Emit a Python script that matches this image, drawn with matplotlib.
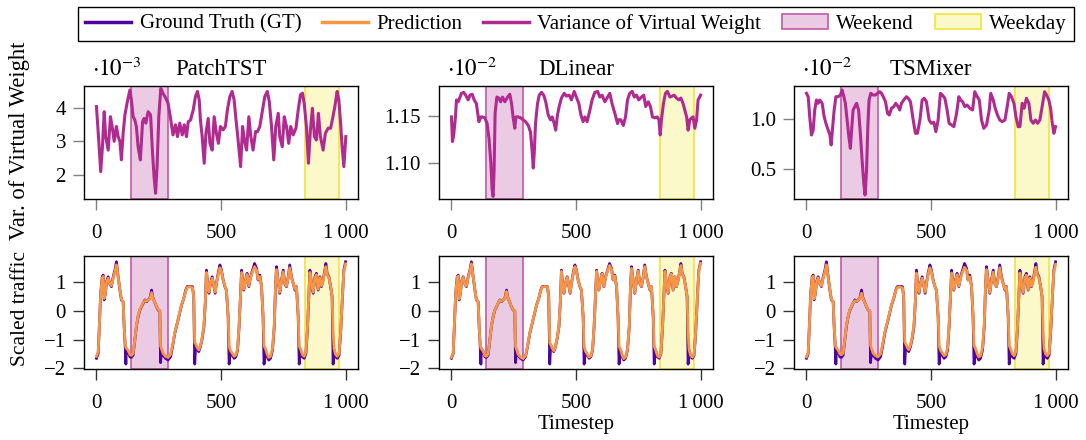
import matplotlib
matplotlib.use("Agg")
import matplotlib.pyplot as plt
from matplotlib.lines import Line2D
from matplotlib.patches import Patch

plt.rcParams['font.family'] = ['Liberation Serif', 'DejaVu Serif']
plt.rcParams['mathtext.fontset'] = 'stix'

# ---------------- data ----------------
models = ["PatchTST", "DLinear", "TSMixer"]
scale_labels = [r"$\cdot 10^{-3}$", r"$\cdot 10^{-2}$", r"$\cdot 10^{-2}$"]
weekend_span = [140, 286]
weekday_span = [838, 973]

patchtst_var_t = [0, 9, 17, 24, 31, 37, 47, 56, 63, 71,
                  80, 87, 94, 100, 107, 114, 124, 134, 140, 147,
                  154, 160, 167, 176, 185, 191, 198, 207, 217, 225,
                  231, 237, 243, 250, 258, 267, 278, 287, 297, 307,
                  317, 325, 334, 344, 352, 361, 368, 377, 388, 397,
                  405, 412, 417, 424, 432, 439, 448, 455, 464, 472,
                  481, 489, 497, 508, 517, 525, 535, 544, 552, 559,
                  568, 578, 586, 594, 602, 611, 619, 628, 638, 646,
                  655, 666, 675, 685, 693, 702, 711, 719, 729, 735,
                  745, 753, 762, 771, 779, 789, 800, 809, 818, 826,
                  833, 842, 850, 858, 866, 874, 882, 890, 898, 909,
                  918, 929, 939, 947, 956, 965, 972, 979, 985, 992,
                  1000]
patchtst_var = [4.03, 3.04, 2.10, 2.84, 3.88, 3.14, 2.74, 3.73, 3.44, 3.00,
                3.44, 3.14, 3.00, 2.45, 3.24, 3.78, 4.18, 4.52, 4.23, 3.73,
                3.63, 3.44, 2.84, 2.45, 3.59, 3.68, 3.54, 3.88, 3.78, 2.64,
                1.95, 1.46, 2.25, 3.73, 4.57, 4.42, 4.28, 4.13, 3.68, 3.19,
                3.49, 3.14, 3.54, 3.19, 3.49, 3.14, 3.58, 3.63, 3.93, 4.33,
                4.48, 4.23, 3.63, 3.14, 2.35, 3.24, 3.68, 2.94, 2.74, 3.73,
                3.24, 2.94, 3.44, 3.34, 3.44, 3.93, 4.33, 4.48, 4.23, 3.68,
                3.04, 2.25, 3.44, 3.00, 2.74, 3.73, 3.14, 2.74, 3.29, 3.29,
                3.44, 3.93, 4.33, 4.48, 4.18, 3.44, 2.45, 3.44, 3.83, 3.14,
                2.84, 3.73, 3.44, 2.94, 3.44, 3.19, 3.39, 3.93, 4.38, 4.43,
                4.13, 3.44, 2.35, 3.34, 3.98, 3.14, 3.04, 3.83, 3.14, 2.74,
                3.24, 3.39, 3.39, 3.68, 4.03, 4.48, 4.23, 3.54, 2.84, 2.25,
                3.14]

dlinear_var_t = [0, 4, 9, 16, 20, 27, 33, 40, 49, 57,
                 67, 74, 83, 91, 100, 110, 118, 124, 134, 143,
                 151, 158, 163, 167, 171, 175, 182, 190, 197, 205,
                 214, 225, 234, 241, 247, 254, 258, 267, 278, 287,
                 297, 308, 317, 324, 328, 332, 337, 345, 352, 361,
                 370, 378, 388, 397, 404, 412, 418, 425, 432, 441,
                 452, 461, 472, 481, 492, 501, 511, 519, 528, 535,
                 544, 555, 564, 575, 586, 595, 604, 615, 626, 635,
                 644, 655, 666, 671, 679, 689, 698, 706, 715, 725,
                 733, 742, 751, 762, 771, 779, 789, 798, 806, 816,
                 825, 832, 837, 842, 850, 858, 866, 876, 885, 893,
                 902, 912, 920, 929, 936, 943, 949, 956, 963, 969,
                 976, 983, 989, 999]
dlinear_var = [1.149, 1.123, 1.130, 1.149, 1.167, 1.165, 1.169, 1.174, 1.175, 1.172,
               1.167, 1.172, 1.173, 1.167, 1.163, 1.144, 1.149, 1.149, 1.148, 1.142,
               1.125, 1.100, 1.072, 1.065, 1.093, 1.153, 1.170, 1.169, 1.165, 1.170,
               1.165, 1.170, 1.173, 1.163, 1.149, 1.137, 1.149, 1.149, 1.148, 1.146,
               1.144, 1.140, 1.133, 1.111, 1.095, 1.111, 1.142, 1.163, 1.172, 1.175,
               1.172, 1.165, 1.151, 1.146, 1.149, 1.142, 1.135, 1.151, 1.160, 1.169,
               1.174, 1.171, 1.172, 1.167, 1.176, 1.170, 1.163, 1.151, 1.144, 1.149,
               1.144, 1.156, 1.167, 1.175, 1.176, 1.170, 1.172, 1.165, 1.170, 1.174,
               1.163, 1.153, 1.142, 1.146, 1.146, 1.140, 1.149, 1.167, 1.174, 1.176,
               1.170, 1.172, 1.167, 1.170, 1.172, 1.160, 1.165, 1.160, 1.149, 1.148,
               1.149, 1.146, 1.130, 1.146, 1.163, 1.174, 1.176, 1.170, 1.171, 1.172,
               1.169, 1.167, 1.169, 1.163, 1.156, 1.149, 1.135, 1.146, 1.148, 1.149,
               1.137, 1.146, 1.167, 1.172]

tsmixer_var_t = [0, 7, 13, 20, 27, 33, 40, 47, 53, 63,
                 71, 78, 87, 94, 99, 104, 111, 118, 127, 136,
                 143, 150, 156, 163, 170, 176, 182, 187, 194, 201,
                 209, 217, 223, 230, 235, 241, 246, 251, 258, 267,
                 277, 285, 294, 301, 308, 317, 325, 332, 341, 350,
                 358, 368, 374, 381, 390, 401, 408, 417, 428, 437,
                 445, 455, 464, 472, 481, 492, 501, 511, 519, 528,
                 537, 545, 555, 564, 572, 582, 591, 602, 611, 618,
                 626, 635, 644, 655, 666, 675, 685, 693, 702, 711,
                 722, 733, 739, 749, 757, 766, 775, 785, 796, 805,
                 813, 822, 832, 840, 849, 856, 865, 873, 882, 892,
                 900, 909, 918, 927, 936, 945, 955, 963, 972, 979,
                 985, 992, 999]
tsmixer_var = [1.257, 1.223, 1.023, 0.840, 0.890, 1.090, 1.190, 1.157, 1.190, 1.157,
               1.023, 0.957, 0.890, 0.840, 0.740, 0.890, 1.090, 1.223, 1.223, 1.240,
               1.290, 1.223, 1.157, 0.990, 0.823, 0.707, 0.923, 1.090, 1.123, 1.157,
               1.090, 0.823, 0.590, 0.357, 0.240, 0.490, 0.923, 1.190, 1.257, 1.240,
               1.240, 1.257, 1.273, 1.257, 1.223, 1.173, 1.057, 1.040, 1.107, 1.123,
               1.157, 1.123, 1.090, 1.157, 1.190, 1.223, 1.207, 1.173, 0.990, 0.857,
               0.857, 0.990, 1.190, 1.207, 1.173, 0.990, 0.957, 0.967, 0.873, 0.990,
               1.257, 1.240, 1.207, 1.090, 0.957, 0.940, 0.923, 1.057, 1.223, 1.190,
               1.173, 1.123, 1.140, 1.107, 1.090, 1.273, 1.223, 1.190, 0.990, 0.907,
               0.940, 1.090, 1.257, 1.190, 1.107, 1.040, 0.990, 0.973, 0.990, 1.123,
               1.257, 1.223, 1.157, 1.023, 0.923, 0.923, 1.157, 1.107, 1.207, 1.157,
               0.990, 0.957, 0.990, 0.957, 0.990, 1.123, 1.273, 1.240, 1.190, 1.107,
               0.973, 0.857, 0.923]

traffic_t = [0, 7, 13, 17, 23, 27, 31, 36, 40, 47,
             53, 60, 67, 74, 80, 87, 94, 100, 107, 111,
             115, 118, 120, 127, 134, 140, 147, 154, 160, 167,
             174, 180, 187, 194, 201, 207, 214, 221, 225, 230,
             238, 247, 254, 257, 261, 267, 277, 287, 297, 305,
             314, 324, 332, 341, 350, 358, 364, 374, 385, 390,
             394, 398, 404, 410, 417, 424, 431, 437, 441, 445,
             451, 457, 464, 471, 476, 481, 488, 495, 501, 508,
             515, 521, 528, 532, 537, 545, 552, 559, 566, 572,
             578, 582, 586, 591, 598, 604, 611, 618, 626, 634,
             642, 648, 655, 662, 668, 672, 678, 685, 691, 698,
             706, 713, 718, 722, 729, 735, 742, 749, 755, 762,
             769, 775, 782, 789, 796, 802, 809, 813, 818, 826,
             833, 840, 846, 852, 856, 862, 869, 876, 882, 889,
             896, 902, 909, 916, 920, 925, 932, 939, 945, 949,
             953, 959, 966, 973, 980, 987, 992, 999]
ground_truth = [-1.65, -1.48, -0.21, 0.60, 1.17, 1.23, 0.37, 0.60, 1.00, 1.17,
                0.94, 0.83, 1.17, 1.40, 1.69, 1.17, 0.71, 0.37, 0.31, -0.56,
                -1.19, -1.85, -1.31, -1.42, -1.60, -1.62, -1.54, -1.02, -0.56, -0.21,
                0.02, 0.13, 0.25, 0.37, 0.31, 0.37, 0.42, 0.71, 0.48, 0.37,
                0.19, 0.02, -0.01, -1.80, -1.36, -1.54, -1.65, -1.71, -1.60, -1.25,
                -0.79, -0.44, -0.15, 0.19, 0.42, 0.71, 0.83, 0.83, 0.83, 0.48,
                -1.85, -1.19, -1.31, -1.42, -1.25, -0.96, -0.56, 0.37, 1.40, 1.00,
                0.60, 0.94, 1.17, 0.83, 0.60, 0.94, 1.29, 1.58, 1.40, 1.06,
                0.83, 0.71, -0.21, -1.85, -1.42, -1.54, -1.65, -1.60, -1.36, -0.56,
                0.60, 1.40, 1.06, 0.71, 1.06, 1.29, 0.83, 1.17, 1.40, 1.63,
                1.46, 1.06, 1.23, 0.83, -0.21, -1.85, -1.36, -1.60, -1.71, -1.65,
                -1.36, -0.56, 0.83, 1.52, 1.00, 0.60, 1.06, 1.40, 0.94, 0.83,
                1.17, 1.58, 1.17, 0.94, 0.71, 0.83, -0.21, -1.85, -1.36, -1.60,
                -1.65, -1.48, -0.67, 0.60, 1.40, 0.94, 0.60, 1.17, 1.29, 0.71,
                1.17, 0.83, 1.06, 1.40, 1.63, 1.29, 1.17, 0.83, 0.48, -1.85,
                -1.36, -1.60, -1.65, -1.54, -0.67, 0.60, 1.40, 1.69]
patchtst_pred = [-1.58, -1.42, -0.18, 0.58, 1.12, 1.18, 0.42, 0.62, 0.98, 1.12,
                 0.95, 0.86, 1.12, 1.34, 1.58, 1.15, 0.74, 0.40, 0.30, -0.50,
                 -1.15, -1.28, -1.30, -1.38, -1.52, -1.55, -1.48, -1.00, -0.52, -0.18,
                 0.05, 0.15, 0.28, 0.35, 0.33, 0.36, 0.40, 0.62, 0.46, 0.36,
                 0.20, 0.04, 0.00, -1.22, -1.32, -1.48, -1.58, -1.62, -1.52, -1.20,
                 -0.76, -0.42, -0.12, 0.20, 0.42, 0.68, 0.80, 0.82, 0.80, 0.46,
                 -1.10, -1.16, -1.28, -1.36, -1.22, -0.92, -0.50, 0.40, 1.32, 1.00,
                 0.64, 0.94, 1.12, 0.86, 0.64, 0.94, 1.25, 1.48, 1.36, 1.05,
                 0.85, 0.72, -0.16, -1.22, -1.38, -1.48, -1.58, -1.54, -1.30, -0.50,
                 0.62, 1.32, 1.05, 0.74, 1.04, 1.25, 0.86, 1.14, 1.35, 1.52,
                 1.40, 1.08, 1.18, 0.84, -0.16, -1.22, -1.32, -1.52, -1.62, -1.58,
                 -1.30, -0.50, 0.85, 1.42, 1.00, 0.64, 1.04, 1.34, 0.95, 0.85,
                 1.14, 1.48, 1.14, 0.94, 0.74, 0.82, -0.16, -1.22, -1.32, -1.52,
                 -1.58, -1.42, -0.60, 0.62, 1.32, 0.95, 0.64, 1.14, 1.24, 0.74,
                 1.14, 0.86, 1.04, 1.34, 1.52, 1.26, 1.14, 0.84, 0.50, -0.75,
                 -1.32, -1.52, -1.58, -1.48, -0.60, 0.62, 1.34, 1.62]
dlinear_pred = [-1.62, -1.45, -0.20, 0.60, 1.15, 1.20, 0.40, 0.60, 0.99, 1.15,
                0.94, 0.85, 1.15, 1.37, 1.62, 1.16, 0.72, 0.38, 0.31, -0.54,
                -1.17, -1.30, -1.31, -1.40, -1.56, -1.58, -1.50, -1.01, -0.54, -0.20,
                0.03, 0.14, 0.26, 0.36, 0.32, 0.37, 0.41, 0.66, 0.47, 0.37,
                0.19, 0.03, -0.01, -1.24, -1.34, -1.51, -1.61, -1.66, -1.56, -1.22,
                -0.78, -0.43, -0.14, 0.19, 0.42, 0.70, 0.81, 0.83, 0.82, 0.47,
                -1.12, -1.18, -1.30, -1.39, -1.24, -0.94, -0.53, 0.38, 1.36, 1.00,
                0.62, 0.94, 1.15, 0.84, 0.62, 0.94, 1.27, 1.52, 1.38, 1.06,
                0.84, 0.71, -0.18, -1.24, -1.40, -1.51, -1.61, -1.57, -1.33, -0.53,
                0.61, 1.36, 1.06, 0.72, 1.05, 1.27, 0.84, 1.16, 1.38, 1.56,
                1.43, 1.07, 1.20, 0.83, -0.18, -1.24, -1.34, -1.56, -1.66, -1.61,
                -1.33, -0.53, 0.84, 1.46, 1.00, 0.62, 1.05, 1.37, 0.94, 0.84,
                1.16, 1.52, 1.16, 0.94, 0.72, 0.83, -0.18, -1.24, -1.34, -1.56,
                -1.61, -1.45, -0.63, 0.61, 1.36, 0.94, 0.62, 1.16, 1.27, 0.72,
                1.16, 0.84, 1.05, 1.37, 1.56, 1.27, 1.16, 0.83, 0.49, -0.77,
                -1.34, -1.56, -1.61, -1.51, -0.63, 0.61, 1.37, 1.64]
tsmixer_pred = [-1.60, -1.44, -0.22, 0.56, 1.13, 1.19, 0.40, 0.61, 0.97, 1.13,
                0.93, 0.85, 1.13, 1.35, 1.58, 1.14, 0.73, 0.39, 0.31, -0.52,
                -1.14, -1.27, -1.29, -1.37, -1.50, -1.53, -1.47, -0.98, -0.52, -0.19,
                0.04, 0.14, 0.26, 0.34, 0.32, 0.36, 0.40, 0.60, 0.45, 0.35,
                0.19, 0.03, -0.01, -1.20, -1.31, -1.47, -1.56, -1.60, -1.50, -1.18,
                -0.75, -0.41, -0.12, 0.20, 0.44, 0.68, 0.80, 0.81, 0.79, 0.46,
                -1.08, -1.15, -1.27, -1.35, -1.20, -0.91, -0.50, 0.36, 1.30, 0.98,
                0.63, 0.93, 1.12, 0.85, 0.64, 0.93, 1.24, 1.48, 1.35, 1.04,
                0.84, 0.70, -0.15, -1.20, -1.36, -1.47, -1.56, -1.52, -1.28, -0.48,
                0.62, 1.30, 1.04, 0.73, 1.03, 1.24, 0.85, 1.13, 1.34, 1.50,
                1.40, 1.06, 1.17, 0.83, -0.15, -1.20, -1.31, -1.50, -1.60, -1.56,
                -1.28, -0.48, 0.84, 1.42, 0.98, 0.63, 1.03, 1.33, 0.94, 0.84,
                1.13, 1.48, 1.13, 0.93, 0.73, 0.81, -0.15, -1.20, -1.31, -1.50,
                -1.56, -1.40, -0.58, 0.62, 1.30, 0.94, 0.63, 1.13, 1.23, 0.73,
                1.13, 0.85, 1.03, 1.33, 1.50, 1.25, 1.13, 0.83, 0.49, -0.74,
                -1.31, -1.50, -1.56, -1.47, -0.58, 0.62, 1.33, 1.60]

var_t = [patchtst_var_t, dlinear_var_t, tsmixer_var_t]
var_vals = [patchtst_var, dlinear_var, tsmixer_var]
preds = [patchtst_pred, dlinear_pred, tsmixer_pred]

var_ylims = [(1.29, 4.65), (1.0623, 1.182), (0.20, 1.333)]
var_yticks = [[2, 3, 4], [1.10, 1.15], [0.5, 1.0]]
var_yticklabels = [["2", "3", "4"], ["1.10", "1.15"], ["0.5", "1.0"]]
traffic_yticks = [-2, -1, 0, 1]
traffic_yticklabels = ["\u22122", "\u22121", "0", "1"]
xticks = [0, 500, 1000]
xticklabels = ["0", "500", "1\u2009000"]

# ---------------- style ----------------
C_GT = "#5002A0"
C_PRED = "#F89540"
C_VAR = "#B12A90"
C_WE_FACE = "#EBCAE3"
C_WE_EDGE = "#C05AA6"
C_WD_FACE = "#FBF8C9"
C_WD_EDGE = "#F2E33A"
FS = 15

W, H = 1086, 440
fig = plt.figure(figsize=(W / 100, H / 100), dpi=100)

col_left = [84, 439, 794]
ax_w = 274.3
top_row = (85.7, 199.0)
bot_row = (255.7, 369.0)


def make_ax(left, row):
    t, b = row
    return fig.add_axes([left / W, 1 - b / H, ax_w / W, (b - t) / H])


def style_ax(ax, tickcolor):
    ax.set_xlim(-50, 1050)
    ax.set_xticks(xticks)
    ax.set_xticklabels(xticklabels)
    ax.tick_params(axis='both', direction='out', length=8, width=1,
                   color=tickcolor, labelsize=FS)
    ax.tick_params(axis='x', pad=10)
    ax.tick_params(axis='y', pad=5)
    for s in ax.spines.values():
        s.set_linewidth(1.0)
        s.set_color('black')


def spans(ax):
    ax.axvspan(weekend_span[0], weekend_span[1], facecolor=C_WE_FACE,
               edgecolor=C_WE_EDGE, linewidth=1.2, zorder=0)
    ax.axvspan(weekday_span[0], weekday_span[1], facecolor=C_WD_FACE,
               edgecolor=C_WD_EDGE, linewidth=1.2, zorder=0)


for i in range(3):
    ax = make_ax(col_left[i], top_row)
    spans(ax)
    ax.plot(var_t[i], var_vals[i], color=C_VAR, lw=2.2, zorder=3)
    ax.set_ylim(*var_ylims[i])
    ax.set_yticks(var_yticks[i])
    ax.set_yticklabels(var_yticklabels[i])
    style_ax(ax, '0.5')
    ax.set_title(models[i], fontsize=16.5, pad=8)
    ax.text(0.03, 1.09, scale_labels[i], transform=ax.transAxes,
            fontsize=16.5, ha='left', va='baseline')

    axb = make_ax(col_left[i], bot_row)
    spans(axb)
    axb.plot(traffic_t, ground_truth, color=C_GT, lw=2.0, zorder=3)
    axb.plot(traffic_t, preds[i], color=C_PRED, lw=2.0, zorder=4)
    axb.set_ylim(-2.02, 1.9)
    axb.set_yticks(traffic_yticks)
    axb.set_yticklabels(traffic_yticklabels)
    style_ax(axb, '0.2')
    if i > 0:
        axb.text(0.5, (1 - 424 / H - (1 - 369 / H)) / ((369 - 255.7) / H),
                 "Timestep", transform=axb.transAxes, fontsize=FS,
                 ha='center', va='center')

fig.text(20 / W, 1 - 141 / H, "Var. of Virtual Weight", rotation=90,
         fontsize=16.3, ha='center', va='center')
fig.text(21 / W, 1 - 308 / H, "Scaled traffic", rotation=90,
         fontsize=15.5, ha='center', va='center')

handles = [Line2D([], [], color=C_GT, lw=2.5),
           Line2D([], [], color=C_PRED, lw=2.5),
           Line2D([], [], color=C_VAR, lw=2.5),
           Patch(facecolor=C_WE_FACE, edgecolor=C_WE_EDGE, linewidth=1.2),
           Patch(facecolor=C_WD_FACE, edgecolor=C_WD_EDGE, linewidth=1.2)]
labels = ["Ground Truth (GT)", "Prediction", "Variance of Virtual Weight",
          "Weekend", "Weekday"]
leg = fig.legend(handles, labels, loc='center',
                 bbox_to_anchor=(576 / W, 1 - 24 / H), ncol=5,
                 frameon=True, fancybox=False, edgecolor='black',
                 fontsize=FS, handlelength=2.2, handletextpad=0.4,
                 columnspacing=1.0, borderpad=0.35, framealpha=1)
leg.get_frame().set_linewidth(1.0)

fig.savefig("out.png", dpi=100)
